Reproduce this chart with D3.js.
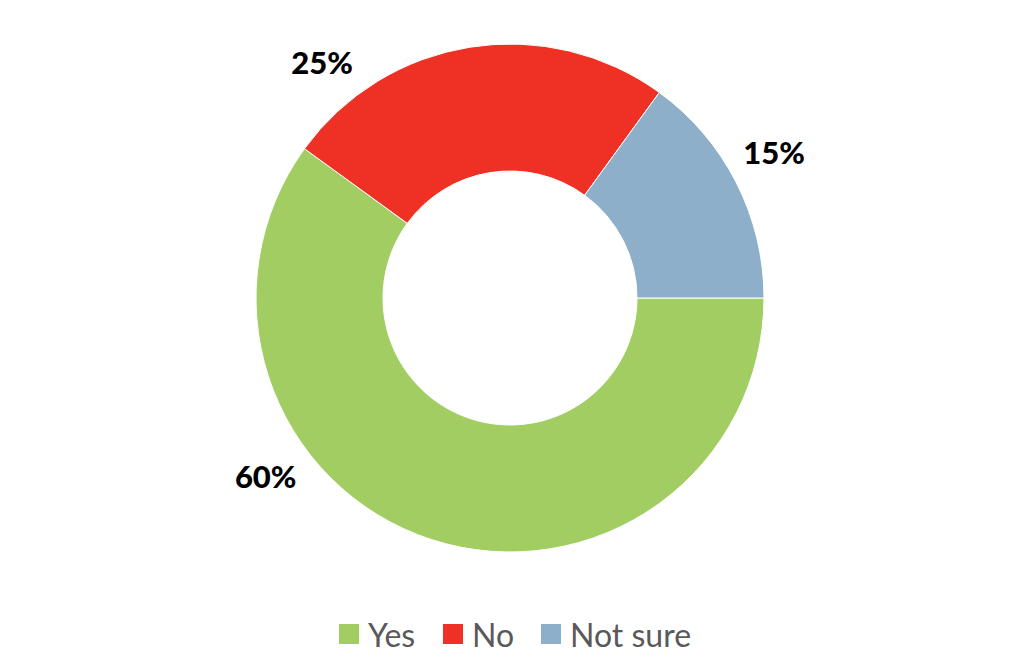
<!DOCTYPE html>
<html><head><meta charset="utf-8">
<script src="https://cdn.jsdelivr.net/npm/d3@7"></script>
<style>body{margin:0;background:#fff;}svg{display:block;}</style>
</head><body>
<svg id="chart" width="1024" height="667"></svg>
<script>
const categories = ["Yes", "No", "Not sure"];
const values = [60, 25, 15];
const labels = ["60%", "25%", "15%"];
const colors = ["#A2CD63", "#EE3124", "#8EAFC9"];

const svg = d3.select("#chart");
const cx = 510, cy = 298, outerR = 254, innerR = 127;
const g = svg.append("g").attr("transform", `translate(${cx},${cy})`);

const pie = d3.pie().sort(null).value(d => d)
  .startAngle(Math.PI / 2).endAngle(Math.PI / 2 + 2 * Math.PI);
const arcs = pie(values);
const arc = d3.arc().innerRadius(innerR).outerRadius(outerR);

g.selectAll("path.slice").data(arcs).enter().append("path")
  .attr("class", "slice")
  .attr("d", arc)
  .attr("fill", (d, i) => colors[i])
  .attr("stroke", "#fff").attr("stroke-width", 1);

// label placement (Excel best-fit style): angle in degrees from 12 o'clock, radius
const labelAngle = [234, 321.5, 61];
const labelR = 302;
g.selectAll("text.lbl").data(arcs).enter().append("text")
  .attr("class", "lbl")
  .attr("x", (d, i) => labelR * Math.sin(labelAngle[i] * Math.PI / 180))
  .attr("y", (d, i) => -labelR * Math.cos(labelAngle[i] * Math.PI / 180))
  .attr("text-anchor", "middle")
  .attr("dominant-baseline", "central")
  .attr("font-family", "Lato, sans-serif")
  .attr("font-weight", "900")
  .attr("font-size", 31)
  .attr("fill", "#000")
  .text((d, i) => labels[i]);

// legend
const legend = svg.append("g");
const legX = [339, 443, 541];
const items = legend.selectAll("g").data(categories).enter().append("g")
  .attr("transform", (d, i) => `translate(${legX[i]},624)`);
items.append("rect").attr("width", 20).attr("height", 20)
  .attr("fill", (d, i) => colors[i]);
items.append("text").attr("x", 29).attr("y", 10)
  .attr("dominant-baseline", "central")
  .attr("font-family", "Lato, sans-serif")
  .attr("font-size", 32)
  .attr("fill", "#595959")
  .text(d => d);
</script>
</body></html>
